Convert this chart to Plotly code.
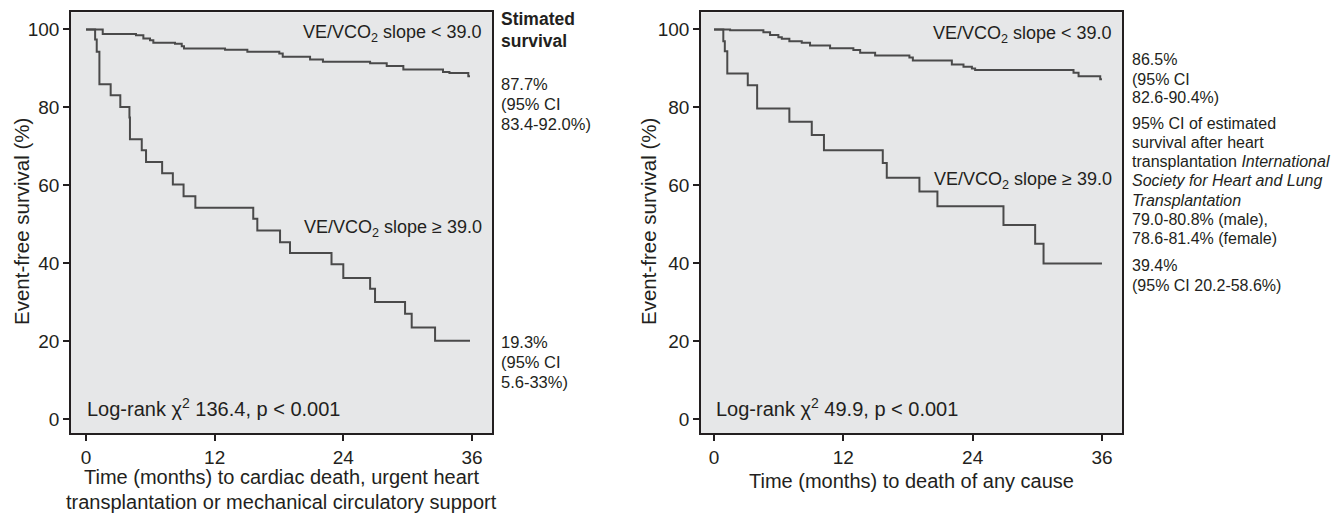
import plotly.graph_objects as go

# ---------------- data ----------------
# Left panel: cardiac death / urgent HTx / MCS
left_low_t = [0, 1.56, 4.66, 5.35, 5.97, 6.28, 8.3, 8.93, 9.14, 12.97, 15.05, 18.03, 18.35,
              20.9, 22.1, 26.5, 28.05, 29.6, 33.3, 33.9, 35.66, 35.82]
left_low_s = [100, 98.8, 98.5, 97.7, 97.2, 96.6, 96.3, 95.7, 95.1, 94.8, 94.3, 93.8, 93.0,
              92.3, 91.7, 91.3, 90.6, 89.7, 89.1, 88.8, 88.0, 88.0]
left_high_t = [0, 0.85, 1.0, 1.25, 2.3, 3.2, 4.05, 4.1, 5.2, 5.6, 7.1, 8.1, 9.1, 10.2,
               15.6, 15.98, 18.1, 19.03, 22.9, 24.0, 26.5, 26.96, 29.76, 30.38, 32.56, 35.82]
left_high_s = [100, 97.4, 94.3, 85.9, 83.1, 80.1, 77.4, 71.8, 69.0, 66.0, 63.1, 60.2, 57.2, 54.2,
               51.4, 48.4, 45.4, 42.6, 39.7, 36.2, 33.4, 30.0, 27.0, 23.5, 20.1, 20.1]

# Right panel: death of any cause
right_low_t = [0, 1.49, 4.58, 5.2, 5.97, 6.29, 6.99, 8.14, 8.91, 10.77, 12.93, 13.56, 14.95,
               18.13, 18.45, 22.07, 23.15, 23.93, 24.23, 33.36, 33.83, 35.84, 36.0]
right_low_s = [100, 99.8, 99.3, 98.6, 98.0, 97.6, 97.0, 96.6, 95.9, 95.2, 94.7, 94.0, 93.3,
               92.8, 92.0, 91.0, 90.4, 90.0, 89.6, 88.9, 88.0, 87.2, 87.2]
right_high_t = [0, 0.86, 1.0, 1.23, 3.13, 4.0, 6.99, 9.07, 10.2, 15.66, 16.03, 19.06, 20.73,
                26.86, 29.8, 30.58, 36.0]
right_high_s = [100, 97.0, 94.4, 88.7, 85.7, 79.7, 76.3, 72.9, 69.0, 65.7, 61.9, 58.4, 54.6,
                49.8, 45.0, 39.9, 39.9]

x_ticks = [0, 12, 24, 36]
y_ticks = [0, 20, 40, 60, 80, 100]

# ---------------- styling ----------------
W, H = 1344, 515
FONT = "Liberation Sans, Arial, Helvetica, sans-serif"
TXT = "#231f20"
CURVE = "#4a4a4a"
BG = "#e6e7e8"


def px(x):
    return x / W


def py(y):
    return 1 - y / H


fig = go.Figure()
for t, s, ax in [(left_low_t, left_low_s, 1), (left_high_t, left_high_s, 1),
                 (right_low_t, right_low_s, 2), (right_high_t, right_high_s, 2)]:
    fig.add_trace(go.Scatter(
        x=t, y=s, mode="lines", showlegend=False, hoverinfo="skip",
        line=dict(shape="hv", color=CURVE, width=2),
        xaxis="x" if ax == 1 else "x2", yaxis="y" if ax == 1 else "y2"))

axis_common = dict(showgrid=False, zeroline=False, showline=True, mirror=True,
                   linecolor=TXT, linewidth=1.5, ticks="outside", ticklen=6,
                   tickwidth=1.5, tickcolor=TXT,
                   tickfont=dict(family=FONT, size=19, color=TXT))

fig.update_layout(
    width=W, height=H,
    margin=dict(l=0, r=0, t=0, b=0),
    paper_bgcolor="white", plot_bgcolor=BG,
    xaxis=dict(domain=[px(71), px(492)], range=[-1.4, 37.87], tickvals=x_ticks,
               anchor="y", **axis_common),
    yaxis=dict(domain=[py(433), py(12.3)], range=[-3.6, 104.4], tickvals=y_ticks,
               anchor="x", **axis_common),
    xaxis2=dict(domain=[px(701), px(1122)], range=[-1.21, 37.86], tickvals=x_ticks,
                anchor="y2", **axis_common),
    yaxis2=dict(domain=[py(433), py(12.3)], range=[-3.6, 104.4], tickvals=y_ticks,
                anchor="x2", **axis_common),
)

anns = []


def note(text, x, y, size, xanchor="left", yanchor="middle", angle=0):
    anns.append(dict(text=text, x=px(x), y=py(y), xref="paper", yref="paper",
                     xanchor=xanchor, yanchor=yanchor, showarrow=False, textangle=angle,
                     font=dict(family=FONT, size=size, color=TXT)))


# axis titles
note("Event-free survival (%)", 21, 222, 20.5, "center", "middle", -90)
note("Event-free survival (%)", 648, 222, 20.5, "center", "middle", -90)
note("Time (months) to cardiac death, urgent heart", 281, 477, 20, "center")
note("transplantation or mechanical circulatory support", 281, 502, 20, "center")
note("Time (months) to death of any cause", 911, 481, 20, "center")

# in-plot labels
note("VE/VCO<sub>2</sub> slope &lt; 39.0", 484, 33, 18, "right")
note("VE/VCO<sub>2</sub> slope ≥ 39.0", 484, 229, 18, "right")
note("Log-rank χ<sup>2</sup> 136.4, p &lt; 0.001", 85, 407, 20)
note("VE/VCO<sub>2</sub> slope &lt; 39.0", 1114, 35, 18, "right")
note("VE/VCO<sub>2</sub> slope ≥ 39.0", 1114, 180, 18, "right")
note("Log-rank χ<sup>2</sup> 49.9, p &lt; 0.001", 714, 407, 20)

# left side-column
note("<b>Stimated</b>", 499, 19, 17.5)
note("<b>survival</b>", 499, 41, 17.5)
for i, line in enumerate(["87.7%", "(95% CI", "83.4-92.0%)"]):
    note(line, 499, 84 + 20 * i, 16.5)
for i, line in enumerate(["19.3%", "(95% CI", "5.6-33%)"]):
    note(line, 499, 342 + 20 * i, 16.5)

# right side-column
right_lines = [
    (60, "86.5%"), (79, "(95% CI"), (97.5, "82.6-90.4%)"),
    (123.5, "95% CI of estimated"), (142.5, "survival after heart"),
    (161.5, "transplantation <i>International</i>"),
    (181, "<i>Society for Heart and Lung</i>"), (200, "<i>Transplantation</i>"),
    (219.5, "79.0-80.8% (male),"), (238.5, "78.6-81.4% (female)"),
    (265.5, "39.4%"), (285, "(95% CI 20.2-58.6%)"),
]
for y, line in right_lines:
    note(line, 1130, y, 16)

fig.update_layout(annotations=anns)
fig.write_html("out.html")
